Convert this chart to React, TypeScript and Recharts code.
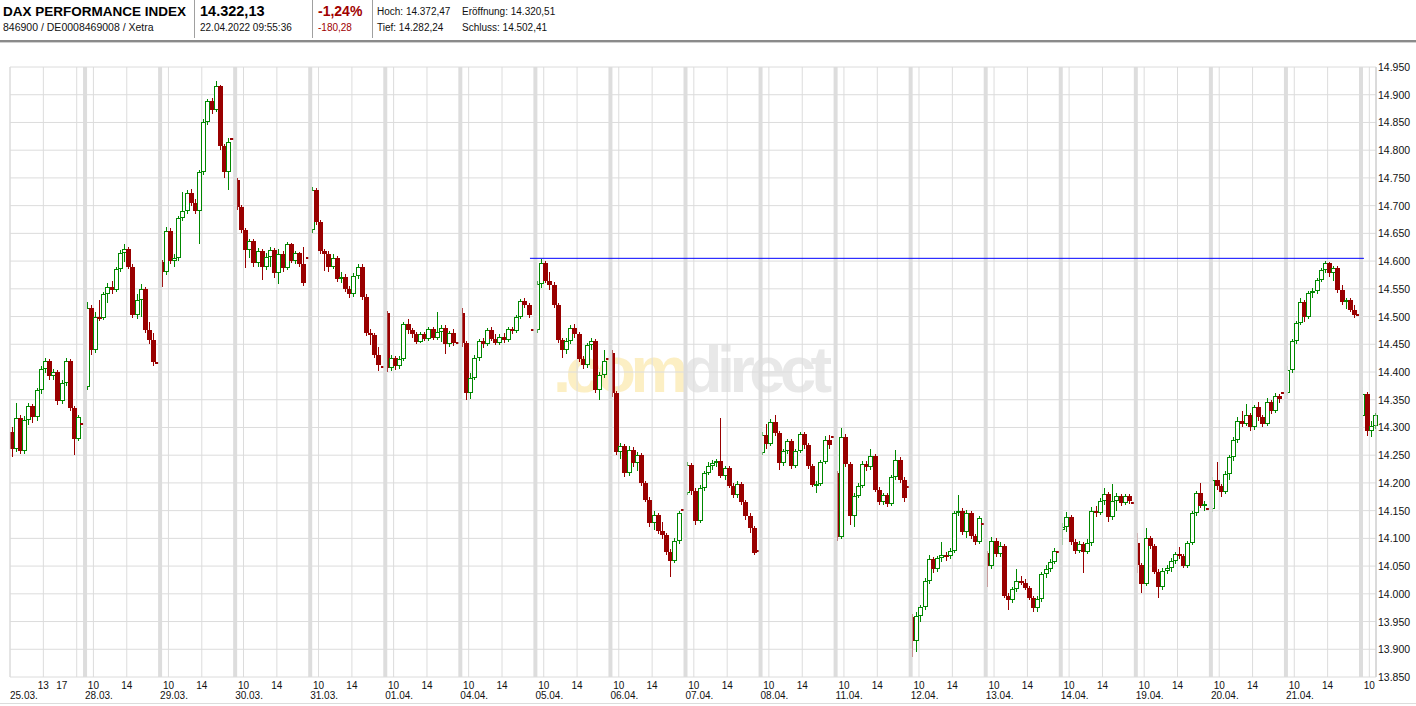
import React from 'react';
import { ComposedChart, Bar, XAxis, YAxis, CartesianGrid, ReferenceLine } from 'recharts';

type OHLC = [number, number, number, number];

// 30-minute candles, open / high / low / close, last entry of a day = closing auction
const d0325: OHLC[] = [
  [14292, 14300, 14247, 14262], [14262, 14345, 14255, 14317], [14317, 14322, 14252, 14258], [14258, 14320, 14252, 14313],
  [14313, 14345, 14305, 14338], [14338, 14342, 14308, 14318], [14318, 14372, 14312, 14367], [14367, 14410, 14360, 14405],
  [14405, 14426, 14398, 14420], [14420, 14424, 14385, 14392], [14392, 14405, 14385, 14400], [14400, 14404, 14340, 14348],
  [14348, 14385, 14342, 14380], [14380, 14425, 14375, 14420], [14420, 14424, 14330, 14335], [14335, 14338, 14250, 14280],
  [14280, 14322, 14275, 14319], [14306, 14306, 14306, 14306],
];
const d0328: OHLC[] = [
  [14373, 14526, 14368, 14515], [14515, 14520, 14430, 14440], [14440, 14508, 14435, 14500], [14500, 14530, 14492, 14498],
  [14498, 14545, 14494, 14540], [14540, 14560, 14525, 14553], [14553, 14565, 14540, 14548], [14548, 14590, 14544, 14585],
  [14585, 14620, 14580, 14614], [14614, 14630, 14598, 14622], [14622, 14625, 14585, 14590], [14590, 14594, 14498, 14502],
  [14502, 14540, 14495, 14530], [14530, 14558, 14500, 14550], [14550, 14554, 14470, 14476], [14476, 14490, 14450, 14458],
  [14458, 14470, 14410, 14418], [14416, 14416, 14416, 14416],
];
const d0329: OHLC[] = [
  [14598, 14602, 14553, 14580], [14580, 14662, 14575, 14655], [14655, 14660, 14595, 14600], [14600, 14612, 14590, 14606],
  [14606, 14682, 14600, 14678], [14678, 14725, 14672, 14690], [14690, 14728, 14685, 14722], [14722, 14730, 14700, 14705],
  [14705, 14712, 14685, 14690], [14690, 14765, 14630, 14760], [14760, 14856, 14755, 14850], [14850, 14892, 14845, 14888],
  [14888, 14895, 14865, 14872], [14872, 14925, 14868, 14915], [14915, 14918, 14800, 14808], [14808, 14812, 14750, 14760],
  [14760, 14822, 14728, 14815], [14820, 14820, 14820, 14820],
];
const d0330: OHLC[] = [
  [14746, 14750, 14692, 14698], [14698, 14702, 14650, 14656], [14656, 14660, 14588, 14620], [14620, 14640, 14605, 14636],
  [14636, 14640, 14590, 14596], [14596, 14624, 14590, 14618], [14618, 14622, 14566, 14590], [14590, 14615, 14584, 14608],
  [14608, 14625, 14590, 14620], [14620, 14624, 14570, 14578], [14578, 14622, 14558, 14612], [14612, 14618, 14580, 14588],
  [14588, 14634, 14584, 14630], [14630, 14633, 14596, 14600], [14600, 14618, 14594, 14614], [14614, 14617, 14590, 14594],
  [14594, 14626, 14555, 14560], [14606, 14606, 14606, 14606],
];
const d0331: OHLC[] = [
  [14656, 14734, 14650, 14728], [14728, 14732, 14665, 14670], [14670, 14674, 14612, 14618], [14618, 14622, 14582, 14612],
  [14612, 14618, 14580, 14590], [14590, 14612, 14585, 14606], [14606, 14610, 14562, 14568], [14568, 14580, 14560, 14572],
  [14572, 14576, 14545, 14550], [14550, 14555, 14533, 14540], [14540, 14578, 14536, 14574], [14574, 14594, 14568, 14590],
  [14590, 14594, 14530, 14536], [14536, 14540, 14465, 14470], [14470, 14478, 14448, 14466], [14466, 14470, 14425, 14430],
  [14430, 14445, 14402, 14412], [14409, 14409, 14409, 14409],
];
const d0401: OHLC[] = [
  [14506, 14510, 14400, 14408], [14408, 14430, 14402, 14425], [14425, 14428, 14404, 14410], [14410, 14428, 14405, 14424],
  [14424, 14490, 14420, 14486], [14486, 14496, 14468, 14475], [14475, 14480, 14462, 14468], [14468, 14472, 14450, 14455],
  [14455, 14472, 14452, 14468], [14468, 14472, 14456, 14460], [14460, 14482, 14456, 14478], [14478, 14482, 14458, 14462],
  [14462, 14508, 14458, 14472], [14472, 14484, 14455, 14480], [14480, 14484, 14432, 14450], [14450, 14474, 14445, 14470],
  [14470, 14478, 14446, 14452], [14452, 14452, 14452, 14452],
];
const d0404: OHLC[] = [
  [14506, 14516, 14445, 14452], [14452, 14456, 14350, 14362], [14362, 14398, 14352, 14390], [14390, 14430, 14385, 14426],
  [14426, 14460, 14420, 14456], [14456, 14462, 14444, 14450], [14450, 14480, 14446, 14476], [14476, 14482, 14456, 14460],
  [14460, 14468, 14448, 14452], [14452, 14468, 14448, 14464], [14464, 14470, 14452, 14458], [14458, 14482, 14454, 14478],
  [14478, 14482, 14468, 14474], [14474, 14502, 14470, 14500], [14500, 14532, 14496, 14528], [14528, 14534, 14515, 14520],
  [14520, 14524, 14498, 14502], [14475, 14475, 14475, 14475],
];
const d0405: OHLC[] = [
  [14475, 14565, 14470, 14558], [14558, 14603, 14552, 14596], [14596, 14600, 14560, 14565], [14565, 14580, 14548, 14556],
  [14556, 14562, 14515, 14520], [14520, 14524, 14452, 14458], [14458, 14462, 14425, 14440], [14440, 14462, 14432, 14456],
  [14456, 14484, 14450, 14480], [14480, 14486, 14462, 14468], [14468, 14472, 14418, 14424], [14424, 14428, 14405, 14412],
  [14412, 14452, 14408, 14448], [14448, 14462, 14440, 14456], [14456, 14460, 14362, 14368], [14368, 14400, 14350, 14395],
  [14395, 14440, 14390, 14420], [14424, 14424, 14424, 14424],
];
const d0406: OHLC[] = [
  [14434, 14440, 14355, 14362], [14362, 14366, 14250, 14256], [14256, 14272, 14244, 14266], [14266, 14270, 14210, 14218],
  [14218, 14266, 14212, 14260], [14260, 14264, 14228, 14236], [14236, 14256, 14222, 14250], [14250, 14254, 14195, 14200],
  [14200, 14204, 14165, 14170], [14170, 14174, 14120, 14128], [14128, 14150, 14115, 14142], [14142, 14146, 14108, 14114],
  [14114, 14130, 14098, 14106], [14106, 14110, 14070, 14075], [14075, 14080, 14030, 14060], [14060, 14100, 14055, 14096],
  [14096, 14150, 14090, 14145], [14151, 14151, 14151, 14151],
];
const d0407: OHLC[] = [
  [14182, 14238, 14178, 14232], [14232, 14236, 14178, 14185], [14185, 14190, 14124, 14132], [14132, 14196, 14128, 14190],
  [14190, 14222, 14186, 14218], [14218, 14238, 14214, 14230], [14230, 14242, 14224, 14236], [14236, 14244, 14228, 14240],
  [14240, 14317, 14208, 14212], [14212, 14230, 14205, 14226], [14226, 14230, 14190, 14195], [14195, 14200, 14172, 14178],
  [14178, 14204, 14172, 14198], [14198, 14202, 14160, 14165], [14165, 14170, 14134, 14140], [14140, 14145, 14110, 14118],
  [14118, 14122, 14070, 14074], [14077, 14077, 14077, 14077],
];
const d0408: OHLC[] = [
  [14254, 14292, 14250, 14286], [14286, 14306, 14262, 14270], [14270, 14316, 14266, 14310], [14310, 14322, 14285, 14290],
  [14290, 14294, 14223, 14236], [14236, 14262, 14230, 14258], [14258, 14280, 14252, 14276], [14276, 14280, 14225, 14230],
  [14230, 14262, 14226, 14258], [14258, 14292, 14254, 14288], [14288, 14292, 14262, 14268], [14268, 14272, 14225, 14230],
  [14230, 14234, 14192, 14196], [14196, 14204, 14182, 14198], [14198, 14242, 14194, 14238], [14238, 14284, 14234, 14278],
  [14278, 14286, 14262, 14268], [14283, 14283, 14283, 14283],
];
const d0411: OHLC[] = [
  [14218, 14222, 14096, 14102], [14102, 14299, 14098, 14282], [14282, 14288, 14228, 14234], [14234, 14238, 14124, 14140],
  [14140, 14182, 14120, 14176], [14176, 14200, 14172, 14194], [14194, 14240, 14190, 14234], [14234, 14240, 14222, 14228],
  [14228, 14262, 14224, 14248], [14248, 14252, 14184, 14188], [14188, 14192, 14160, 14165], [14165, 14182, 14160, 14178],
  [14178, 14182, 14156, 14162], [14162, 14214, 14158, 14210], [14210, 14260, 14206, 14242], [14242, 14246, 14200, 14205],
  [14205, 14210, 14165, 14172], [14193, 14193, 14193, 14193],
];
const d0412: OHLC[] = [
  [13958, 13964, 13886, 13915], [13915, 13968, 13895, 13960], [13960, 13980, 13950, 13976], [13976, 14028, 13970, 14024],
  [14024, 14070, 14018, 14062], [14062, 14066, 14038, 14045], [14045, 14068, 14040, 14064], [14064, 14094, 14058, 14070],
  [14070, 14076, 14060, 14068], [14068, 14082, 14062, 14078], [14078, 14150, 14074, 14146], [14146, 14178, 14140, 14150],
  [14150, 14154, 14106, 14112], [14112, 14152, 14100, 14146], [14146, 14150, 14098, 14104], [14104, 14108, 14088, 14094],
  [14094, 14140, 14090, 14136], [14126, 14126, 14126, 14126],
];
const d0413: OHLC[] = [
  [14074, 14078, 14012, 14050], [14050, 14103, 14044, 14096], [14096, 14100, 14066, 14072], [14072, 14094, 14066, 14086],
  [14086, 14090, 13992, 13996], [13996, 14002, 13971, 13988], [13988, 14012, 13984, 14008], [14008, 14044, 14004, 14024],
  [14024, 14032, 14016, 14020], [14020, 14026, 14006, 14010], [14010, 14014, 13988, 13992], [13992, 13996, 13968, 13975],
  [13975, 13996, 13968, 13990], [13990, 14040, 13986, 14036], [14036, 14052, 14028, 14044], [14044, 14062, 14040, 14058],
  [14058, 14082, 14054, 14078], [14076, 14076, 14076, 14076],
];
const d0414: OHLC[] = [
  [14115, 14128, 14088, 14120], [14120, 14148, 14112, 14138], [14138, 14142, 14088, 14094], [14094, 14098, 14072, 14078],
  [14078, 14096, 14074, 14090], [14090, 14094, 14038, 14076], [14076, 14098, 14072, 14092], [14092, 14156, 14086, 14150],
  [14150, 14158, 14138, 14146], [14146, 14172, 14142, 14168], [14168, 14190, 14160, 14180], [14180, 14184, 14130, 14138],
  [14138, 14198, 14134, 14168], [14168, 14182, 14150, 14176], [14176, 14180, 14158, 14164], [14164, 14180, 14160, 14176],
  [14176, 14180, 14162, 14168], [14163, 14163, 14163, 14163],
];
const d0419: OHLC[] = [
  [14092, 14110, 14038, 14052], [14052, 14056, 14002, 14018], [14018, 14119, 14014, 14100], [14100, 14104, 14080, 14086],
  [14086, 14090, 14036, 14040], [14040, 14044, 13992, 14012], [14012, 14046, 14006, 14042], [14042, 14052, 14036, 14046],
  [14046, 14064, 14040, 14060], [14060, 14076, 14054, 14072], [14072, 14084, 14062, 14068], [14068, 14072, 14046, 14050],
  [14050, 14096, 14046, 14092], [14092, 14150, 14088, 14146], [14146, 14186, 14140, 14182], [14182, 14200, 14154, 14158],
  [14158, 14168, 14150, 14162], [14153, 14153, 14153, 14153],
];
const d0420: OHLC[] = [
  [14153, 14210, 14148, 14205], [14205, 14238, 14188, 14194], [14194, 14198, 14175, 14184], [14184, 14222, 14180, 14216],
  [14216, 14250, 14206, 14246], [14246, 14282, 14240, 14278], [14278, 14318, 14272, 14312], [14312, 14330, 14300, 14306],
  [14306, 14342, 14302, 14322], [14322, 14326, 14294, 14300], [14300, 14340, 14296, 14336], [14336, 14346, 14312, 14318],
  [14318, 14322, 14300, 14306], [14306, 14354, 14302, 14346], [14346, 14350, 14324, 14330], [14330, 14362, 14326, 14356],
  [14356, 14360, 14344, 14352], [14362, 14362, 14362, 14362],
];
const d0421: OHLC[] = [
  [14362, 14410, 14358, 14404], [14404, 14460, 14398, 14456], [14456, 14492, 14450, 14488], [14488, 14533, 14484, 14526],
  [14526, 14530, 14490, 14500], [14500, 14546, 14496, 14542], [14542, 14552, 14534, 14546], [14546, 14570, 14540, 14566],
  [14566, 14588, 14562, 14584], [14584, 14600, 14578, 14596], [14596, 14598, 14572, 14578], [14578, 14592, 14564, 14588],
  [14588, 14592, 14542, 14548], [14548, 14556, 14520, 14526], [14526, 14534, 14514, 14530], [14530, 14533, 14508, 14512],
  [14512, 14520, 14498, 14503], [14502, 14502, 14502, 14502],
];
const d0422: OHLC[] = [
  [14320, 14373, 14316, 14360], [14360, 14364, 14284, 14294], [14294, 14312, 14282, 14302], [14302, 14326, 14298, 14322],
];

const sessions = [
  { date: '25.03.', hours: [13, 17], candles: d0325 },
  { date: '28.03.', hours: [10, 14], candles: d0328 },
  { date: '29.03.', hours: [10, 14], candles: d0329 },
  { date: '30.03.', hours: [10, 14], candles: d0330 },
  { date: '31.03.', hours: [10, 14], candles: d0331 },
  { date: '01.04.', hours: [10, 14], candles: d0401 },
  { date: '04.04.', hours: [10, 14], candles: d0404 },
  { date: '05.04.', hours: [10, 14], candles: d0405 },
  { date: '06.04.', hours: [10, 14], candles: d0406 },
  { date: '07.04.', hours: [10, 14], candles: d0407 },
  { date: '08.04.', hours: [10, 14], candles: d0408 },
  { date: '11.04.', hours: [10, 14], candles: d0411 },
  { date: '12.04.', hours: [10, 14], candles: d0412 },
  { date: '13.04.', hours: [10, 14], candles: d0413 },
  { date: '14.04.', hours: [10, 14], candles: d0414 },
  { date: '19.04.', hours: [10, 14], candles: d0419 },
  { date: '20.04.', hours: [10, 14], candles: d0420 },
  { date: '21.04.', hours: [10, 14], candles: d0421 },
  { date: '', hours: [10], candles: d0422 },
];

const priceTicks = [
  13850, 13900, 13950, 14000, 14050, 14100, 14150, 14200, 14250, 14300, 14350, 14400,
  14450, 14500, 14550, 14600, 14650, 14700, 14750, 14800, 14850, 14900, 14950,
];

// horizontal line drawn from 05.04. high (x in half-hour slots)
const resistance = { level: 14605, from: 124.7, to: 324.7 };

const SLOTS = 18;
const X_MAX = 327.6;
const UP = '#008800';
const DOWN = '#990000';
const GRID = '#dcdcdc';
const FONT = 'Arial, "Liberation Sans", sans-serif';

const data = sessions.flatMap((s, d) =>
  s.candles.map(([o, h, l, c], i) => ({ t: d * SLOTS + i + 0.5, o, h, l, c, range: [l, h] }))
);
const hourTicks = sessions.flatMap((s, d) => s.hours.map((hr) => d * SLOTS + (hr - 9) * 2));
const dayTicks = sessions.map((_s, d) => d * SLOTS).filter((_v, d) => sessions[d].date !== '');

const fmtPrice = (v: number) => `${Math.floor(v / 1000)}.${String(v % 1000).padStart(3, '0')}`;

const Candle = (props: any) => {
  const { x, y, width, height, payload } = props;
  const { o, h, l, c } = payload;
  const cx = Math.floor(x + width / 2);
  if (h === l) {
    return <rect x={cx - 2} y={Math.round(y) - 1} width={6} height={2} fill={DOWN} />;
  }
  const k = height / (h - l);
  const top = Math.round(y + (h - Math.max(o, c)) * k);
  const bot = Math.max(top + 2, Math.round(y + (h - Math.min(o, c)) * k));
  const y0 = Math.round(y);
  const y1 = Math.round(y + height);
  if (c > o) {
    return (
      <g>
        <line x1={cx + 0.5} x2={cx + 0.5} y1={y0} y2={top} stroke={UP} />
        <line x1={cx + 0.5} x2={cx + 0.5} y1={bot} y2={y1} stroke={UP} />
        <rect x={cx - 1.5} y={top + 0.5} width={4} height={Math.max(1, bot - top - 1)} fill="#fff" stroke={UP} />
      </g>
    );
  }
  return (
    <g>
      <line x1={cx + 0.5} x2={cx + 0.5} y1={y0} y2={y1} stroke={DOWN} />
      <rect x={cx - 2} y={top} width={5} height={Math.max(2, bot - top)} fill={DOWN} />
    </g>
  );
};

const HourTick = (props: any) => {
  const { x, y, payload } = props;
  const slot = payload.value % SLOTS;
  const shift = payload.value === 16 ? -15 : 0;
  return (
    <text x={x + shift} y={y} textAnchor="middle" dominantBaseline="central" fontSize={10} fill="#111" fontFamily={FONT}>
      {9 + slot / 2}
    </text>
  );
};

const DateTick = (props: any) => {
  const { x, y, payload } = props;
  const d = Math.round(payload.value / SLOTS);
  return (
    <text x={x} y={y - 2} textAnchor="start" dominantBaseline="central" fontSize={10} fill="#111" fontFamily={FONT}>
      {sessions[d].date}
    </text>
  );
};

const PriceTick = (props: any) => {
  const { x, y, payload } = props;
  return (
    <text x={x} y={y} textAnchor="start" dominantBaseline="central" fontSize={10.5} fill="#111" fontFamily={FONT}>
      {fmtPrice(payload.value)}
    </text>
  );
};

function Backdrop() {
  return (
    <svg width={1416} height={706} style={{ position: 'absolute', left: 0, top: 0 }} fontFamily={FONT}>
      <text x={3} y={16} fontSize={13.5} fontWeight="bold" fill="#000">DAX PERFORMANCE INDEX</text>
      <text x={3} y={31} fontSize={10.5} fill="#111">846900 / DE0008469008 / Xetra</text>
      <text x={200} y={16} fontSize={14.5} fontWeight="bold" fill="#000">14.322,13</text>
      <text x={200} y={31} fontSize={10} fill="#111">22.04.2022 09:55:36</text>
      <text x={318} y={16} fontSize={14} fontWeight="bold" fill="#a00000">-1,24%</text>
      <text x={318} y={31} fontSize={10} fill="#a00000">-180,28</text>
      <text x={377} y={15} fontSize={10} fill="#111">Hoch: 14.372,47</text>
      <text x={462} y={15} fontSize={10} fill="#111">Eröffnung: 14.320,51</text>
      <text x={377} y={31} fontSize={10} fill="#111">Tief: 14.282,24</text>
      <text x={462} y={31} fontSize={10} fill="#111">Schluss: 14.502,41</text>
      <line x1={194.5} x2={194.5} y1={0} y2={38} stroke="#a0a0a0" />
      <line x1={312.5} x2={312.5} y1={0} y2={38} stroke="#a0a0a0" />
      <line x1={372.5} x2={372.5} y1={0} y2={38} stroke="#a0a0a0" />
      <rect x={0} y={40} width={1416} height={2} fill="#8a8a8a" />
      <rect x={0} y={42} width={1416} height={1} fill="#d0d0d0" />
      <rect x={0} y={703} width={1416} height={1} fill="#dcdcdc" />
      <text x={553} y={392} fontSize={65} fontWeight="bold" letterSpacing={-5.5}>
        <tspan fill="#fcefc4">.com</tspan>
        <tspan fill="#e8e8e8">direct</tspan>
      </text>
    </svg>
  );
}

export default function App() {
  return (
    <div style={{ position: 'fixed', left: 0, top: 0, width: 1416, height: 706, background: '#fff', fontFamily: FONT }}>
      <Backdrop />
      <div style={{ position: 'absolute', left: 0, top: 0 }}>
        <ComposedChart width={1416} height={706} data={data} margin={{ top: 67, right: 0, bottom: 0, left: 10 }}>
          <CartesianGrid stroke={GRID} />
          <XAxis
            dataKey="t"
            type="number"
            domain={[0, X_MAX]}
            ticks={hourTicks}
            interval={0}
            height={14}
            axisLine={false}
            tickLine={false}
            tickSize={0}
            tickMargin={8}
            tick={<HourTick />}
          />
          <XAxis
            xAxisId="d"
            dataKey="t"
            type="number"
            domain={[0, X_MAX]}
            ticks={dayTicks}
            interval={0}
            height={15}
            axisLine={false}
            tickLine={false}
            tickSize={0}
            tickMargin={6}
            tick={<DateTick />}
          />
          <YAxis
            orientation="right"
            width={40}
            domain={[13850, 14950]}
            ticks={priceTicks}
            interval={0}
            axisLine={{ stroke: '#c8c8c8' }}
            tickLine={false}
            tickSize={0}
            tickMargin={2}
            tick={<PriceTick />}
          />
          <ReferenceLine x={0} stroke={GRID} />
          {sessions.slice(1).map((_s, i) => (
            <ReferenceLine key={i} x={(i + 1) * SLOTS} stroke="#dddddd" strokeWidth={4} />
          ))}
          <Bar dataKey="range" barSize={4} shape={<Candle />} isAnimationActive={false} />
          <ReferenceLine
            segment={[
              { x: resistance.from, y: resistance.level },
              { x: resistance.to, y: resistance.level },
            ]}
            stroke="#0000ff"
          />
        </ComposedChart>
      </div>
    </div>
  );
}
